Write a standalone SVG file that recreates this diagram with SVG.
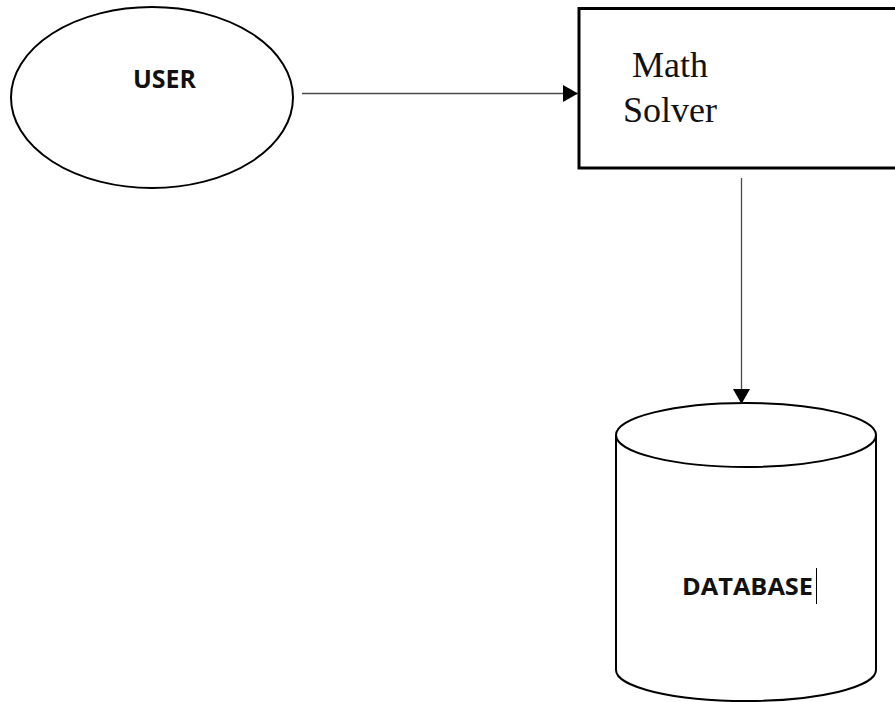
<svg xmlns="http://www.w3.org/2000/svg" width="895" height="702" viewBox="0 0 895 702">
  <style>
    .shape { fill: #ffffff; stroke: #000000; stroke-width: 2; }
    .box { fill: #ffffff; stroke: #000000; stroke-width: 3; }
    .edge { fill: none; stroke: #4a4a4a; stroke-width: 1.3; }
    .sans { font-family: "Open Sans", "Liberation Sans", sans-serif; font-weight: bold; fill: #111111; }
    .serif { font-family: "Liberation Serif", "Times New Roman", serif; font-size: 36px; fill: #111111; }
  </style>
  <defs>
    <marker id="arrow" markerUnits="userSpaceOnUse" markerWidth="16" markerHeight="17" refX="15" refY="8.5" orient="auto">
      <path d="M0,0 L15,8.5 L0,17 z" fill="#000000"/>
    </marker>
  </defs>

  <rect width="895" height="702" fill="#ffffff"/>

  <g id="user">
    <ellipse class="shape" cx="152" cy="97.5" rx="141" ry="90.5"/>
    <text class="sans" x="133" y="88" font-size="25" textLength="63" lengthAdjust="spacingAndGlyphs">USER</text>
  </g>

  <g id="math-solver">
    <!-- right side runs past the canvas edge -->
    <rect class="box" x="579" y="8.5" width="330" height="159.5"/>
    <text class="serif" x="632" y="77">Math</text>
    <text class="serif" x="623" y="122">Solver</text>
  </g>

  <g id="database">
    <path class="shape" d="M616,435 L616,670 A130,31 0 0 0 876,670 L876,435"/>
    <ellipse class="shape" cx="746" cy="435" rx="130" ry="32"/>
    <text class="sans" x="682" y="595" font-size="24" textLength="131" lengthAdjust="spacingAndGlyphs">DATABASE</text>
    <line x1="816.5" y1="568" x2="816.5" y2="604" stroke="#000000" stroke-width="1"/>
  </g>

  <g id="connectors">
    <line class="edge" x1="302" y1="93.5" x2="578" y2="93.5" marker-end="url(#arrow)"/>
    <line class="edge" x1="741.5" y1="178" x2="741.5" y2="404" marker-end="url(#arrow)"/>
  </g>
</svg>
